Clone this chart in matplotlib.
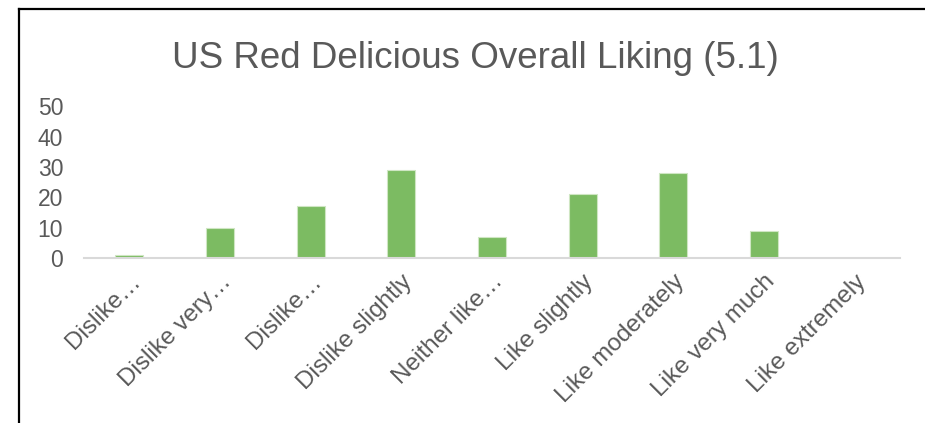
import matplotlib.pyplot as plt
from matplotlib.lines import Line2D

plt.rcParams['font.family'] = ['Liberation Sans', 'DejaVu Sans']

categories = ['Dislike…', 'Dislike very…', 'Dislike…', 'Dislike slightly',
              'Neither like…', 'Like slightly', 'Like moderately',
              'Like very much', 'Like extremely']
counts = [1, 10, 17, 29, 7, 21, 28, 9, 0]
yticks = [0, 10, 20, 30, 40, 50]

gray = '#595959'
fig = plt.figure(figsize=(9.25, 4.23), dpi=100)
ax = fig.add_axes([0.0908, 0.390, 0.882, 0.359])

x = list(range(len(categories)))
ax.bar(x, counts, width=0.31, color='#7CBB62', edgecolor='#CFE6C3', linewidth=0.8)

ax.set_xlim(-0.5, len(categories) - 0.5)
ax.set_ylim(0, 50)
ax.set_yticks(yticks)
ax.set_xticks(x)
ax.set_xticklabels(categories, rotation=45, ha='right', rotation_mode='anchor')
ax.tick_params(axis='both', length=0, labelsize=16.5, labelcolor=gray)
ax.tick_params(axis='x', pad=9, labelsize=17.5)
ax.tick_params(axis='y', pad=15)

for side in ['top', 'right', 'left']:
    ax.spines[side].set_visible(False)
ax.spines['bottom'].set_color('#D9D9D9')
ax.spines['bottom'].set_linewidth(1.5)

fig.text(0.5135, 0.862, 'US Red Delicious Overall Liking (5.1)',
         ha='center', va='center', fontsize=26.5, color=gray)

# chart frame, cut off at right and bottom
fig.add_artist(Line2D([0.0205, 1.0], [0.9787, 0.9787], transform=fig.transFigure,
                      color='black', linewidth=1.6))
fig.add_artist(Line2D([0.0205, 0.0205], [0.0, 0.9787], transform=fig.transFigure,
                      color='black', linewidth=1.6))

fig.savefig('out.png', dpi=100)
